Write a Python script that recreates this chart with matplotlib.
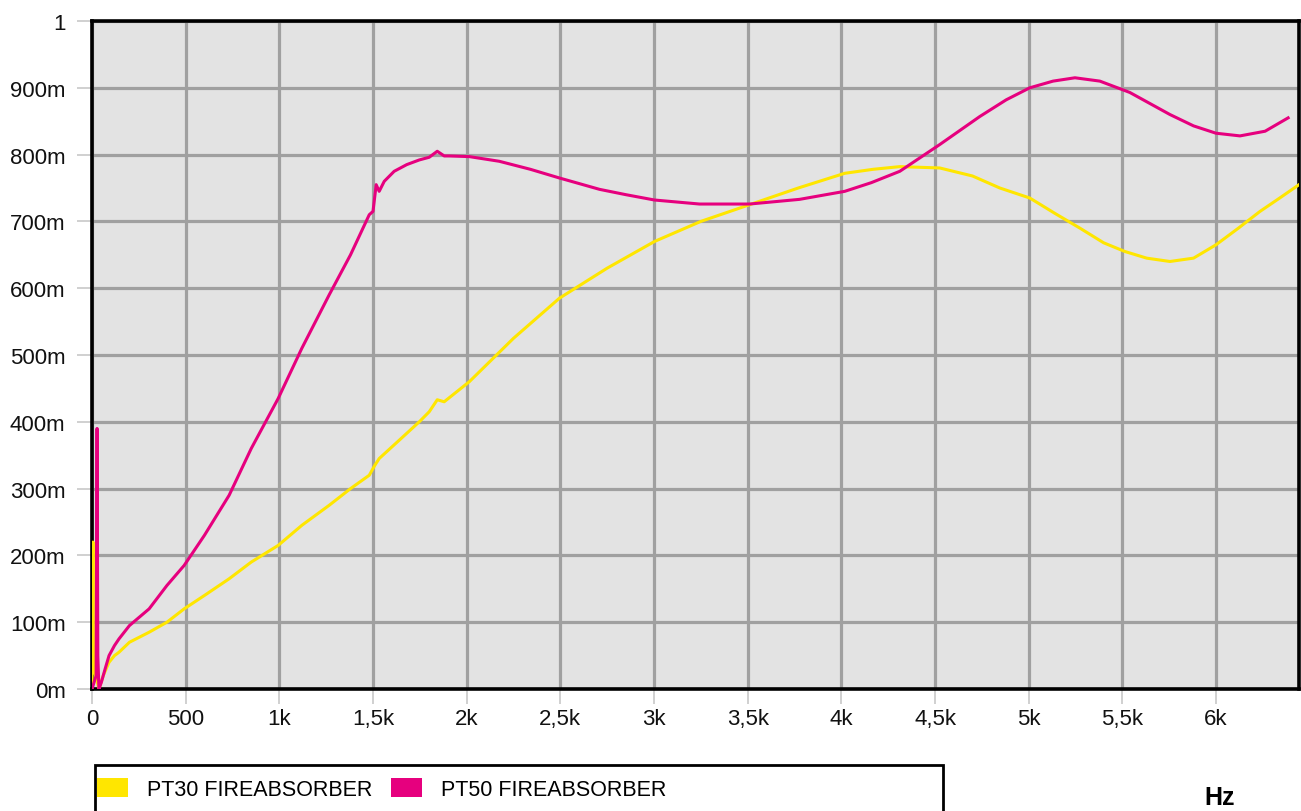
import numpy as np
import matplotlib.pyplot as plt
from matplotlib.patches import Patch, Rectangle
from matplotlib.ticker import FuncFormatter

plt.rcParams['font.family'] = ['Liberation Sans', 'DejaVu Sans']

# frequency (Hz) / absorption values
pt30_hz = [0, 5, 8, 20, 37, 60, 91, 120, 144, 200, 305, 400, 492, 600, 732, 850, 994,
           1120, 1266, 1380, 1480, 1510, 1533, 1650, 1747, 1800, 1843, 1880, 2014,
           2250, 2495, 2750, 3003, 3250, 3510, 3770, 4018, 4170, 4312, 4525, 4700,
           4846, 5006, 5140, 5273, 5400, 5513, 5630, 5754, 5880, 6000, 6120, 6235,
           6340, 6443]
pt30_val = [0.0, 0.22, 0.03, 0.02, 0.0, 0.02, 0.04, 0.05, 0.055, 0.07, 0.085, 0.10,
            0.12, 0.14, 0.165, 0.19, 0.215, 0.245, 0.275, 0.30, 0.32, 0.335, 0.345,
            0.375, 0.40, 0.415, 0.433, 0.43, 0.46, 0.525, 0.585, 0.63, 0.67, 0.70,
            0.725, 0.75, 0.772, 0.778, 0.782, 0.780, 0.768, 0.75, 0.735, 0.712, 0.69,
            0.668, 0.655, 0.645, 0.64, 0.645, 0.665, 0.69, 0.715, 0.735, 0.755]

pt50_hz = [0, 22, 27, 31, 37, 50, 70, 91, 120, 144, 200, 305, 400, 492, 600, 732,
           850, 994, 1120, 1266, 1380, 1480, 1500, 1517, 1533, 1560, 1613, 1680,
           1747, 1800, 1843, 1880, 1907, 2014, 2174, 2340, 2495, 2709, 2850, 3003,
           3243, 3510, 3777, 4018, 4160, 4312, 4525, 4739, 4880, 5006, 5130, 5247,
           5380, 5540, 5754, 5880, 6000, 6128, 6262, 6385]
pt50_val = [0.0, 0.02, 0.39, 0.05, 0.0, 0.01, 0.03, 0.05, 0.065, 0.075, 0.095, 0.12,
            0.155, 0.185, 0.23, 0.29, 0.36, 0.435, 0.51, 0.59, 0.65, 0.71, 0.715,
            0.755, 0.745, 0.76, 0.775, 0.785, 0.792, 0.796, 0.805, 0.798, 0.798,
            0.797, 0.79, 0.778, 0.765, 0.748, 0.74, 0.732, 0.726, 0.726, 0.733,
            0.745, 0.758, 0.775, 0.815, 0.857, 0.882, 0.900, 0.910, 0.915, 0.910,
            0.893, 0.860, 0.843, 0.832, 0.828, 0.835, 0.855]

labels = ['PT30 FIREABSORBER', 'PT50 FIREABSORBER']
colors = ['#FFE600', '#E6007E']

x_ticks = [0, 500, 1000, 1500, 2000, 2500, 3000, 3500, 4000, 4500, 5000, 5500, 6000]
y_ticks = [0, 0.1, 0.2, 0.3, 0.4, 0.5, 0.6, 0.7, 0.8, 0.9, 1.0]


def fmt_x(v, pos):
    if v == 0:
        return '0'
    if v < 1000:
        return '%d' % v
    s = ('%g' % (v / 1000)).replace('.', ',')
    return s + 'k'


def fmt_y(v, pos):
    if abs(v - 1) < 1e-9:
        return '1'
    return '%dm' % round(v * 1000)


fig = plt.figure(figsize=(13.01, 8.12), dpi=100)
ax = fig.add_axes([92 / 1301, 122 / 812, 1207 / 1301, 668 / 812])
ax.set_facecolor('#E3E3E3')

ax.plot(pt30_hz, pt30_val, color=colors[0], lw=2.2, zorder=3)
ax.plot(pt50_hz, pt50_val, color=colors[1], lw=2.2, zorder=4)

ax.set_xlim(0, 6443)
ax.set_ylim(0, 1)
ax.set_xticks(x_ticks)
ax.set_yticks(y_ticks)
ax.xaxis.set_major_formatter(FuncFormatter(fmt_x))
ax.yaxis.set_major_formatter(FuncFormatter(fmt_y))
ax.grid(True, color='#A0A0A0', lw=2.3, zorder=1)
ax.set_axisbelow(True)
ax.tick_params(axis='both', colors='#C8C8C8', length=11, width=1.2,
               labelcolor='#111111', labelsize=16)
ax.tick_params(axis='x', pad=3)
ax.tick_params(axis='y', pad=8)
for sp in ax.spines.values():
    sp.set_linewidth(2.6)
    sp.set_color('black')

# legend with a frame that runs off the bottom of the figure
fig.patches.append(Rectangle((95 / 1301, -0.05), 848 / 1301, 0.05 + 46 / 812,
                             transform=fig.transFigure, fill=False,
                             edgecolor='black', lw=2))
handles = [Patch(facecolor=c, edgecolor='none') for c in colors]
fig.legend(handles, labels, loc='center left', bbox_to_anchor=(97 / 1301, 22 / 812),
           ncol=2, frameon=False, fontsize=15.5, handlelength=1.45, handleheight=1.0,
           handletextpad=0.85, columnspacing=0.9, borderpad=0, borderaxespad=0)

fig.text(1220 / 1301, 14 / 812, 'Hz', fontsize=18, fontweight='bold',
         ha='center', va='center')

fig.savefig('out.png', dpi=100)
